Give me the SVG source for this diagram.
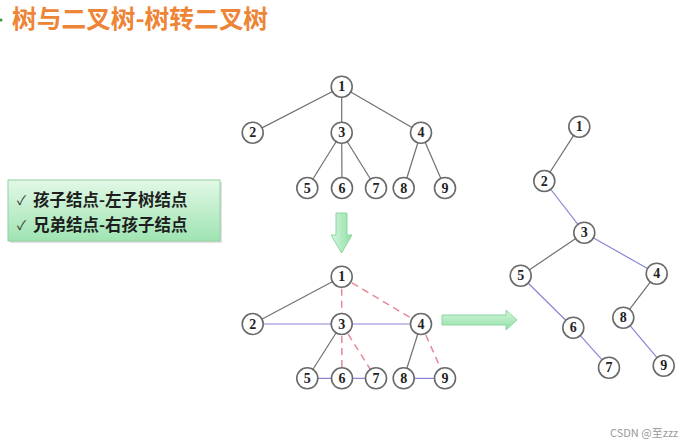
<svg xmlns="http://www.w3.org/2000/svg" width="696" height="447" viewBox="0 0 696 447">
<defs>
<linearGradient id="boxg" x1="0" y1="0" x2="0" y2="1">
<stop offset="0" stop-color="#e2f8e6"/>
<stop offset="1" stop-color="#9fe4b2"/>
</linearGradient>
<linearGradient id="arrg" x1="0" y1="0" x2="0" y2="1">
<stop offset="0" stop-color="#d4f5dc"/>
<stop offset="1" stop-color="#90e0a6"/>
</linearGradient>
<linearGradient id="arrv" x1="0" y1="0" x2="1" y2="0">
<stop offset="0" stop-color="#d4f5dc"/>
<stop offset="1" stop-color="#90e0a6"/>
</linearGradient>
</defs>
<style>
.n circle{fill:#fff;stroke:#6a6a6a;stroke-width:1.6}
.n text{font-family:"Liberation Serif",serif;font-weight:bold;font-size:14px;fill:#222;text-anchor:middle;dominant-baseline:central}
.g{stroke:#707070;stroke-width:1.2;fill:none}
.p{stroke:#8a86d6;stroke-width:1.2;fill:none}
.d{stroke:#e58a96;stroke-width:1.5;stroke-dasharray:7,5;fill:none}
.cjk{font-family:"Noto Sans CJK SC","Noto Sans",sans-serif}
</style>
<rect width="696" height="447" fill="#ffffff"/>
<circle cx="1" cy="20" r="1.5" fill="#3a9a3a"/>
<text class="cjk" x="12" y="28" font-size="24.7" font-weight="bold" fill="#ee8435">树与二叉树-树转二叉树</text>

<g id="infobox">
<rect x="10" y="182" width="212" height="61" fill="#000" opacity="0.12"/>
<rect x="8" y="180" width="212" height="61" fill="url(#boxg)" stroke="#8fd2a0" stroke-width="1"/>
<text class="cjk" x="17" y="205" font-size="13" fill="#333">✓</text>
<text class="cjk" x="33" y="206" font-size="16.5" font-weight="bold" fill="#1e1e1e">孩子结点-左子树结点</text>
<text class="cjk" x="17" y="230" font-size="13" fill="#333">✓</text>
<text class="cjk" x="33" y="231" font-size="16.5" font-weight="bold" fill="#1e1e1e">兄弟结点-右孩子结点</text>
</g>

<g id="arrow-down">
<path d="M336,213 H347 V235 H352 L341.5,253 L331,235 H336 Z" fill="url(#arrv)" stroke="#8fd6a2" stroke-width="1"/>
</g>
<g id="arrow-right">
<path d="M442,315 H506 V310 L517,320 L506,330 V325 H442 Z" fill="url(#arrg)" stroke="#8fd6a2" stroke-width="1"/>
</g>

<g id="connectors">
<line class="g" x1="341.7" y1="86.7" x2="252.7" y2="132.7"/>
<line class="g" x1="341.7" y1="86.7" x2="341.7" y2="132.7"/>
<line class="g" x1="341.7" y1="86.7" x2="421" y2="132.7"/>
<line class="g" x1="341.7" y1="132.7" x2="307.3" y2="188"/>
<line class="g" x1="341.7" y1="132.7" x2="342" y2="188"/>
<line class="g" x1="341.7" y1="132.7" x2="376" y2="188"/>
<line class="g" x1="421" y1="132.7" x2="403.7" y2="188"/>
<line class="g" x1="421" y1="132.7" x2="445" y2="188"/>
<line class="g" x1="341.7" y1="276.7" x2="252.7" y2="324"/>
<line class="p" x1="252.7" y1="324" x2="421" y2="324"/>
<line class="d" x1="341.7" y1="276.7" x2="341.7" y2="324"/>
<line class="d" x1="341.7" y1="276.7" x2="421" y2="324"/>
<line class="g" x1="341.7" y1="324" x2="307.3" y2="378.3"/>
<line class="d" x1="341.7" y1="324" x2="342" y2="378.3"/>
<line class="d" x1="341.7" y1="324" x2="376" y2="378.3"/>
<line class="p" x1="307.3" y1="378.3" x2="376" y2="378.3"/>
<line class="g" x1="421" y1="324" x2="403.7" y2="378.3"/>
<line class="d" x1="421" y1="324" x2="445" y2="378.3"/>
<line class="p" x1="403.7" y1="378.3" x2="445" y2="378.3"/>
<line class="g" x1="579.3" y1="126.7" x2="544.3" y2="181"/>
<line class="p" x1="544.3" y1="181" x2="584.3" y2="232.7"/>
<line class="g" x1="584.3" y1="232.7" x2="520.7" y2="275.7"/>
<line class="p" x1="584.3" y1="232.7" x2="656.7" y2="273.7"/>
<line class="p" x1="520.7" y1="275.7" x2="573.3" y2="327.7"/>
<line class="p" x1="573.3" y1="327.7" x2="609" y2="367.7"/>
<line class="g" x1="656.7" y1="273.7" x2="623.3" y2="317.7"/>
<line class="p" x1="623.3" y1="317.7" x2="663.7" y2="365.7"/>
</g>

<g id="t1" class="n"><circle cx="341.7" cy="86.7" r="10.5"/><text x="341.7" y="86.7">1</text></g>
<g id="t2" class="n"><circle cx="252.7" cy="132.7" r="10.5"/><text x="252.7" y="132.7">2</text></g>
<g id="t3" class="n"><circle cx="341.7" cy="132.7" r="10.5"/><text x="341.7" y="132.7">3</text></g>
<g id="t4" class="n"><circle cx="421" cy="132.7" r="10.5"/><text x="421" y="132.7">4</text></g>
<g id="t5" class="n"><circle cx="307.3" cy="188" r="10.5"/><text x="307.3" y="188">5</text></g>
<g id="t6" class="n"><circle cx="342" cy="188" r="10.5"/><text x="342" y="188">6</text></g>
<g id="t7" class="n"><circle cx="376" cy="188" r="10.5"/><text x="376" y="188">7</text></g>
<g id="t8" class="n"><circle cx="403.7" cy="188" r="10.5"/><text x="403.7" y="188">8</text></g>
<g id="t9" class="n"><circle cx="445" cy="188" r="10.5"/><text x="445" y="188">9</text></g>

<g id="m1" class="n"><circle cx="341.7" cy="276.7" r="10.5"/><text x="341.7" y="276.7">1</text></g>
<g id="m2" class="n"><circle cx="252.7" cy="324" r="10.5"/><text x="252.7" y="324">2</text></g>
<g id="m3" class="n"><circle cx="341.7" cy="324" r="10.5"/><text x="341.7" y="324">3</text></g>
<g id="m4" class="n"><circle cx="421" cy="324" r="10.5"/><text x="421" y="324">4</text></g>
<g id="m5" class="n"><circle cx="307.3" cy="378.3" r="10.5"/><text x="307.3" y="378.3">5</text></g>
<g id="m6" class="n"><circle cx="342" cy="378.3" r="10.5"/><text x="342" y="378.3">6</text></g>
<g id="m7" class="n"><circle cx="376" cy="378.3" r="10.5"/><text x="376" y="378.3">7</text></g>
<g id="m8" class="n"><circle cx="403.7" cy="378.3" r="10.5"/><text x="403.7" y="378.3">8</text></g>
<g id="m9" class="n"><circle cx="445" cy="378.3" r="10.5"/><text x="445" y="378.3">9</text></g>

<g id="b1" class="n"><circle cx="579.3" cy="126.7" r="10.5"/><text x="579.3" y="126.7">1</text></g>
<g id="b2" class="n"><circle cx="544.3" cy="181" r="10.5"/><text x="544.3" y="181">2</text></g>
<g id="b3" class="n"><circle cx="584.3" cy="232.7" r="10.5"/><text x="584.3" y="232.7">3</text></g>
<g id="b4" class="n"><circle cx="656.7" cy="273.7" r="10.5"/><text x="656.7" y="273.7">4</text></g>
<g id="b5" class="n"><circle cx="520.7" cy="275.7" r="10.5"/><text x="520.7" y="275.7">5</text></g>
<g id="b6" class="n"><circle cx="573.3" cy="327.7" r="10.5"/><text x="573.3" y="327.7">6</text></g>
<g id="b7" class="n"><circle cx="609" cy="367.7" r="10.5"/><text x="609" y="367.7">7</text></g>
<g id="b8" class="n"><circle cx="623.3" cy="317.7" r="10.5"/><text x="623.3" y="317.7">8</text></g>
<g id="b9" class="n"><circle cx="663.7" cy="365.7" r="10.5"/><text x="663.7" y="365.7">9</text></g>

<text class="cjk" x="610" y="437" font-size="11" fill="#9a9a9a">CSDN @至zzz</text>
</svg>
